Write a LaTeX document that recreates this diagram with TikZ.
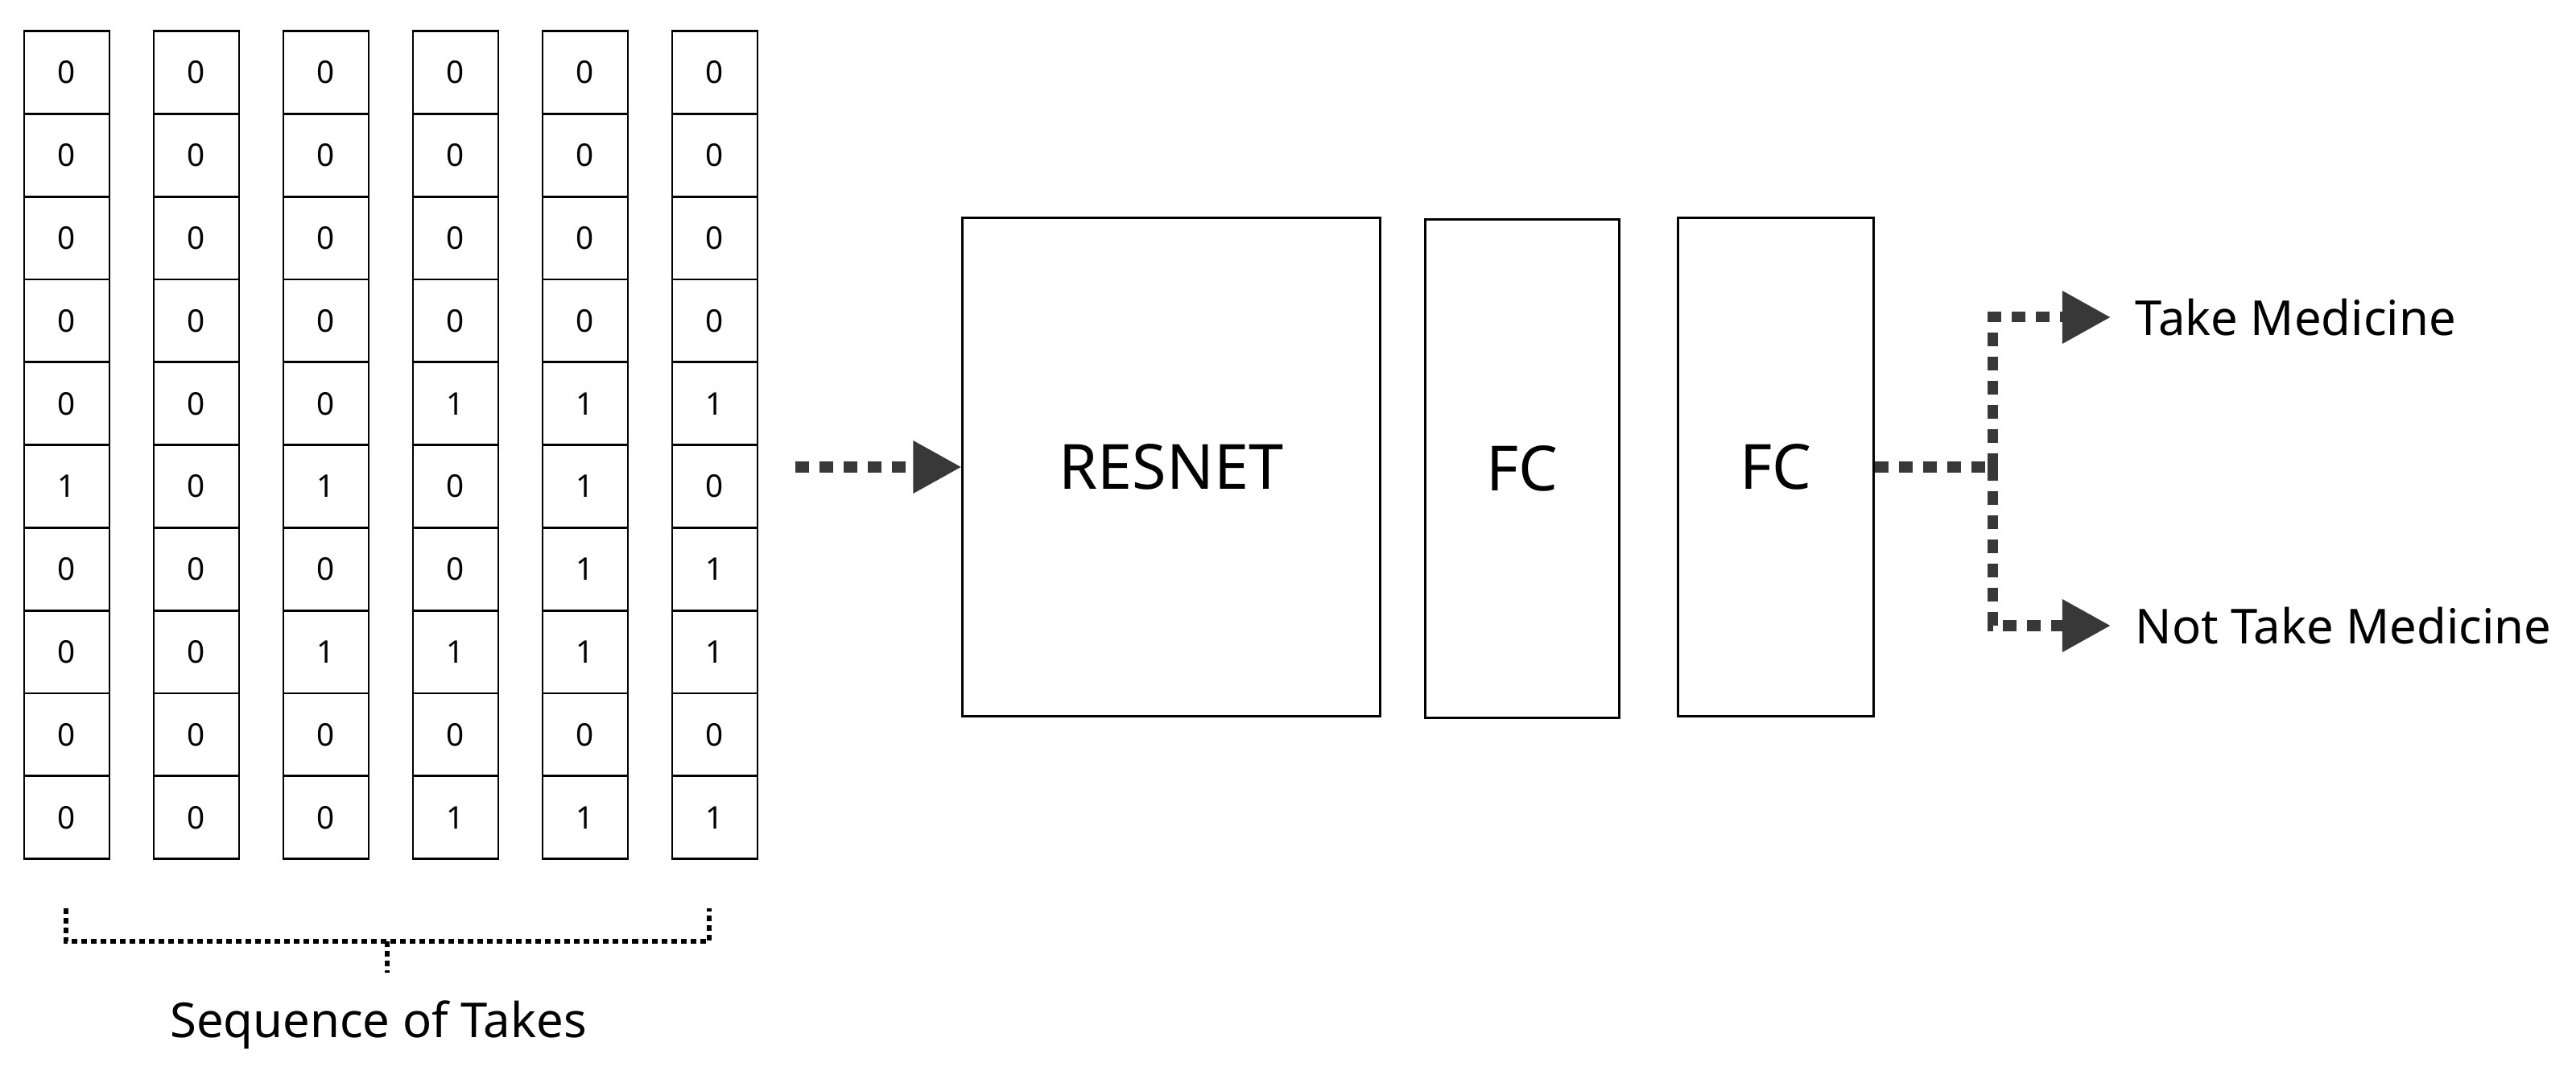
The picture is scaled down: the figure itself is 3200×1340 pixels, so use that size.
\documentclass[tikz,border=0pt]{standalone}
\usepackage{fontspec}
\setmainfont{Noto Sans}
\usetikzlibrary{arrows.meta}
\begin{document}
\begin{tikzpicture}[x=0.01cm,y=-0.01cm,
  cell/.style={draw,line width=0.8pt,minimum width=1.06cm,minimum height=1.028cm,inner sep=0,font=\fontsize{11}{13}\selectfont},
  blk/.style={draw,line width=0.8pt,inner sep=0,font=\fontsize{22}{26}\selectfont},
  dotline/.style={line width=0.13cm,color=black!78,dash pattern=on 0.17cm off 0.13cm},
  arr/.style={dotline,-{Triangle[length=0.6cm,width=0.62cm]}},
  lbl/.style={font=\bfseries\fontsize{17}{20}\selectfont,anchor=west,inner sep=0}]
\useasboundingbox (0,0) rectangle (3200,1340);
\foreach \c/\d in {0/{0,0,0,0,0,1,0,0,0,0},1/{0,0,0,0,0,0,0,0,0,0},2/{0,0,0,0,0,1,0,1,0,0},3/{0,0,0,0,1,0,0,1,0,1},4/{0,0,0,0,1,1,1,1,0,1},5/{0,0,0,0,1,0,1,1,0,1}}{
  \foreach \v [count=\r from 0] in \d {
    \node[cell] (c\c r\r) at ({83+161*\c},{90+102.8*\r}) {\v};
  }
}
\node[blk,minimum width=5.18cm,minimum height=6.19cm] (res) at (1455,580) {RESNET};
\node[blk,minimum width=2.41cm,minimum height=6.19cm] (fc1) at (1891,582) {FC};
\node[blk,minimum width=2.43cm,minimum height=6.19cm] (fc2) at (2206,580) {FC};
\coordinate (a0) at (988,580);
\draw[arr] (a0) -- (res.west);
\coordinate (j) at (2475,580);
\coordinate (jt) at (2475,394);
\coordinate (jb) at (2475,777);
\node[lbl] (take) at (2652,394) {Take Medicine};
\node[lbl] (not) at (2652,777) {Not Take Medicine};
\draw[dotline] (fc2.east) -- (j);
\draw[arr] (j) -- (jt) -- ([xshift=-0.3cm]take.west);
\draw[arr] (j) -- (jb) -- ([xshift=-0.3cm]not.west);
\draw[line width=0.06cm,dash pattern=on 0.07cm off 0.05cm] (82,1128) -- (82,1169) -- (881,1169) -- (881,1128);
\draw[line width=0.06cm,dash pattern=on 0.07cm off 0.05cm] (481,1169) -- (481,1208);
\node[font=\bfseries\fontsize{17}{20}\selectfont] (seq) at (470,1273) {Sequence of Takes};
\end{tikzpicture}
\end{document}
